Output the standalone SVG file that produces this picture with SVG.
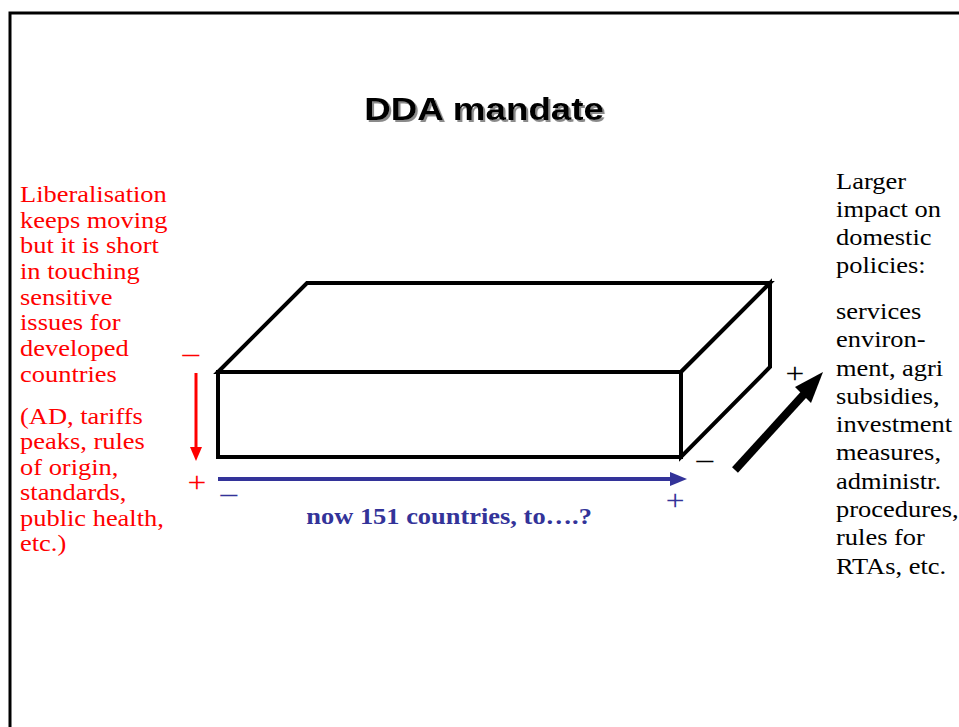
<svg xmlns="http://www.w3.org/2000/svg" width="959" height="727" viewBox="0 0 959 727">
<defs>
<style>
.serif{font-family:"Liberation Serif","Times New Roman",serif;font-size:23px}
.sign{font-family:"Liberation Serif","Times New Roman",serif;font-size:29px}
.red{fill:#ff0000}
.blue{fill:#333399}
.blk{fill:#000}
.edge{fill:#fff;stroke:#000;stroke-width:4;stroke-linejoin:miter}
</style>
<filter id="shadow" x="-10%" y="-30%" width="130%" height="160%">
<feDropShadow dx="1.8" dy="2" stdDeviation="0.6" flood-color="#8a8a8a" flood-opacity="1"/>
</filter>
</defs>
<rect width="959" height="727" fill="#fff"/>
<path d="M10,727 V13 H959" fill="none" stroke="#000" stroke-width="3"/>
<g id="title" transform="scale(1.15,1)">
<text x="421" y="120" text-anchor="middle" font-family="Liberation Sans,Arial,sans-serif" font-weight="bold" font-size="32" fill="#000" filter="url(#shadow)">DDA mandate</text>
</g>
<g id="box">
<polygon class="edge" points="218,372 307,283 770,283 681,372"/>
<polygon class="edge" points="681,372 770,283 770,367 681,457"/>
<rect class="edge" x="218" y="372" width="463" height="85"/>
</g>
<g id="connectors">
<line x1="196" y1="373" x2="196" y2="448" stroke="#ff0000" stroke-width="3"/>
<polygon points="190,447 202,447 196,461" fill="#ff0000"/>
<line x1="218" y1="479" x2="672" y2="479" stroke="#333399" stroke-width="4"/>
<polygon points="670,472 687,479 670,486" fill="#333399"/>
<line x1="735" y1="470" x2="806" y2="392" stroke="#000" stroke-width="8"/>
<polygon points="823,372 811,403 795,387" fill="#000"/>
</g>
<g id="signs" class="sign" transform="scale(1.15,1)" text-anchor="middle">
<text class="red" x="166" y="363">–</text>
<text class="red" x="171.3" y="492">+</text>
<text class="blue" x="199" y="503">–</text>
<text class="blue" x="587" y="510">+</text>
<text class="blk" x="613" y="469">–</text>
<text class="blk" x="691.3" y="383">+</text>
</g>
<g id="left-text" class="serif red" transform="scale(1.15,1)">
<text x="17.4" y="202">Liberalisation</text>
<text x="17.4" y="227.7">keeps moving</text>
<text x="17.4" y="253.4">but it is short</text>
<text x="17.4" y="279.1">in touching</text>
<text x="17.4" y="304.8">sensitive</text>
<text x="17.4" y="330.5">issues for</text>
<text x="17.4" y="356.2">developed</text>
<text x="17.4" y="381.9">countries</text>
<text x="17.4" y="424">(AD, tariffs</text>
<text x="17.4" y="449.4">peaks, rules</text>
<text x="17.4" y="474.8">of origin,</text>
<text x="17.4" y="500.2">standards,</text>
<text x="17.4" y="525.6">public health,</text>
<text x="17.4" y="551">etc.)</text>
</g>
<g id="bottom-label" transform="scale(1.15,1)">
<text class="serif blue" x="390.5" y="524" text-anchor="middle" font-weight="bold" font-size="23.4">now 151 countries, to….?</text>
</g>
<g id="right-text" class="serif blk" transform="scale(1.15,1)">
<text x="727" y="189">Larger</text>
<text x="727" y="217">impact on</text>
<text x="727" y="245">domestic</text>
<text x="727" y="273">policies:</text>
<text x="727" y="319">services</text>
<text x="727" y="347.3">environ-</text>
<text x="727" y="375.6">ment, agri</text>
<text x="727" y="403.9">subsidies,</text>
<text x="727" y="432.2">investment</text>
<text x="727" y="460.5">measures,</text>
<text x="727" y="488.8">administr.</text>
<text x="727" y="517.1">procedures,</text>
<text x="727" y="545.4">rules for</text>
<text x="727" y="573.7">RTAs, etc.</text>
</g>
</svg>
